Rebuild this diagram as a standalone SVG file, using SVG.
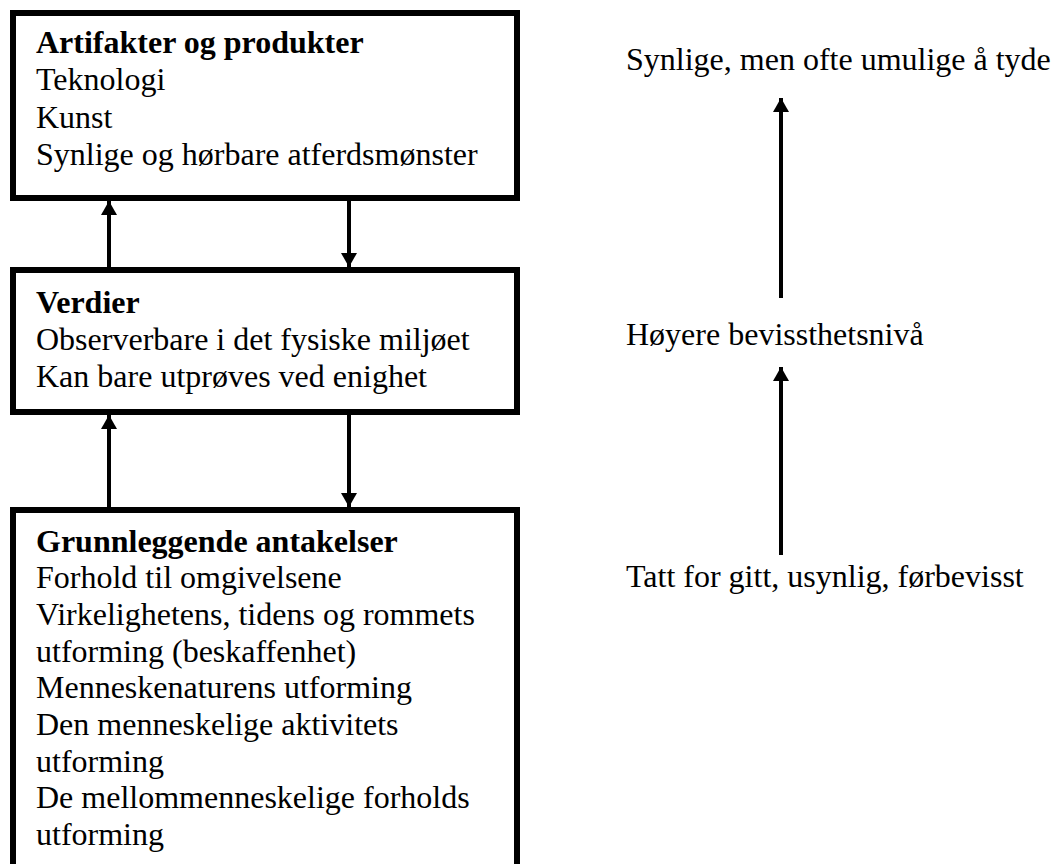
<svg xmlns="http://www.w3.org/2000/svg" width="1056" height="864" viewBox="0 0 1056 864">
<style>
.box{fill:#fff;stroke:#000;stroke-width:6}
.t{font-family:"Liberation Serif","Times New Roman",serif;font-size:32px;fill:#000}
.b{font-weight:bold}
.ln{stroke:#000;stroke-width:4;fill:none}
</style>
<defs>
<marker id="ah" markerUnits="userSpaceOnUse" markerWidth="14" markerHeight="16" refX="14" refY="8" viewBox="0 0 14 16" orient="auto">
<path d="M0,0 L14,8 L0,16 Z" fill="#000"/>
</marker>
</defs>
<rect width="1056" height="864" fill="#fff"/>
<g id="node-artifakter">
<rect class="box" x="13" y="13" width="504" height="185"/>
<text class="t b" x="36" y="53">Artifakter og produkter</text>
<text class="t" x="36" y="90">Teknologi</text>
<text class="t" x="36" y="128">Kunst</text>
<text class="t" x="36" y="165">Synlige og hørbare atferdsmønster</text>
</g>
<g id="node-verdier">
<rect class="box" x="13" y="270" width="504" height="142"/>
<text class="t b" x="36" y="313">Verdier</text>
<text class="t" x="36" y="350">Observerbare i det fysiske miljøet</text>
<text class="t" x="36" y="387">Kan bare utprøves ved enighet</text>
</g>
<g id="node-antakelser">
<rect class="box" x="13" y="510" width="504" height="380"/>
<text class="t b" x="36" y="552">Grunnleggende antakelser</text>
<text class="t" x="36" y="588">Forhold til omgivelsene</text>
<text class="t" x="36" y="625">Virkelighetens, tidens og rommets</text>
<text class="t" x="36" y="662">utforming (beskaffenhet)</text>
<text class="t" x="36" y="698">Menneskenaturens utforming</text>
<text class="t" x="36" y="735">Den menneskelige aktivitets</text>
<text class="t" x="36" y="772">utforming</text>
<text class="t" x="36" y="808">De mellommenneskelige forholds</text>
<text class="t" x="36" y="845">utforming</text>
</g>
<g id="node-synlige">
<text class="t" x="626" y="70">Synlige, men ofte umulige å tyde</text>
</g>
<g id="node-hoyere">
<text class="t" x="626" y="345">Høyere bevissthetsnivå</text>
</g>
<g id="node-tatt">
<text class="t" x="626" y="587">Tatt for gitt, usynlig, førbevisst</text>
</g>
<g id="connectors">
<line class="ln" x1="109" y1="267" x2="109" y2="201" marker-end="url(#ah)"/>
<line class="ln" x1="349" y1="201" x2="349" y2="267" marker-end="url(#ah)"/>
<line class="ln" x1="109" y1="507" x2="109" y2="415" marker-end="url(#ah)"/>
<line class="ln" x1="349" y1="415" x2="349" y2="507" marker-end="url(#ah)"/>
<line class="ln" x1="781" y1="298" x2="781" y2="98" marker-end="url(#ah)"/>
<line class="ln" x1="781" y1="555" x2="781" y2="367" marker-end="url(#ah)"/>
</g>
</svg>
